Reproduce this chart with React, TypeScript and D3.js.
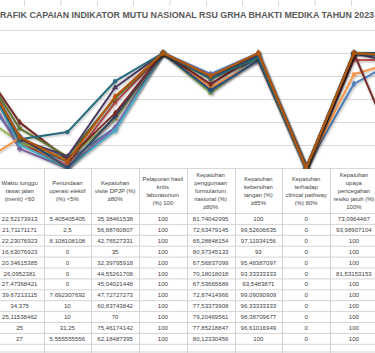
import React from 'react';
import * as d3 from 'd3';

const W = 375;
const H = 353;

const title = 'GRAFIK CAPAIAN INDIKATOR MUTU NASIONAL RSU GRHA BHAKTI MEDIKA TAHUN 2023';

const categories = [
  'Kepatuhan identifikasi pasien (%) 100',
  'Waktu tunggu rawat jalan (menit) <60',
  'Penundaan operasi elektif (%) <5%',
  'Kepatuhan visite DPJP (%) ≥80%',
  'Pelaporan hasil kritis laboratorium (%) 100',
  'Kepatuhan penggunaan formularium nasional (%) ≥80%',
  'Kepatuhan kebersihan tangan (%) ≥85%',
  'Kepatuhan terhadap clinical pathway (%) 80%',
  'Kepatuhan upaya pencegahan resiko jatuh (%) 100%',
  'Kecepatan waktu tanggap komplain (%) ≥80%',
];

// header lines of the table columns that are visible in the frame
const headerLines = [
  [],
  ['Waktu tunggu', 'rawat jalan', '(menit) <60'],
  ['Penundaan', 'operasi elektif', '(%) <5%'],
  ['Kepatuhan', 'visite DPJP (%)', '≥80%'],
  ['Pelaporan hasil', 'kritis', 'laboratorium', '(%) 100'],
  ['Kepatuhan', 'penggunaan', 'formularium', 'nasional (%)', '≥80%'],
  ['Kepatuhan', 'kebersihan', 'tangan (%)', '≥85%'],
  ['Kepatuhan', 'terhadap', 'clinical pathway', '(%) 80%'],
  ['Kepatuhan', 'upaya', 'pencegahan', 'resiko jatuh (%)', '100%'],
  [],
];
const visibleColumns = [false, true, true, true, true, true, true, true, true, false];

const months = ['Januari', 'Februari', 'Maret', 'April', 'Mei', 'Juni', 'Juli', 'Agustus', 'September', 'Oktober', 'November', 'Desember'];

// hidden (cut-off) columns, estimated from the lines entering / leaving the frame
const identifikasi = ['75', '100', '52', '90', '100', '0', '100', '100', '100', '100', '100', '100'];
const waktuTunggu = ['22,52173913', '21,71171171', '22,23076923', '16,63076923', '20,34615385', '26,0952381', '27,47368421', '39,67213115', '34,375', '25,11538462', '25', '27'];
const penundaan = ['5,405405405', '2,5', '8,108108108', '0', '0', '0', '0', '7,692307692', '10', '10', '31,25', '5,555555556'];
const visite = ['35,38461538', '56,88760807', '42,76527331', '35', '32,39795918', '44,55261708', '45,04021448', '47,72727273', '60,83743842', '70', '75,46174142', '62,18487395'];
const pelaporan = ['100', '100', '100', '100', '100', '100', '100', '100', '100', '100', '100', '100'];
const formularium = ['81,74042995', '72,63479145', '65,28848154', '80,97345133', '67,56837099', '70,18018018', '67,53665689', '72,87414966', '77,53373908', '79,20469561', '77,85218847', '80,12330456'];
const kebersihan = ['100', '99,52606635', '97,11934156', '93', '95,48387097', '93,33333333', '93,5483871', '99,09090909', '96,33333333', '98,38709677', '96,61016949', '100'];
const clinicalPathway = ['0', '0', '0', '0', '0', '0', '0', '0', '0', '0', '0', '0'];
const resikoJatuh = ['73,0964467', '93,98907104', '100', '100', '100', '81,53153153', '100', '100', '100', '100', '100', '100'];
const komplain = ['96', '94', '100', '100', '100', '94', '100', '2', '98', '90', '95', '97'];

const columns = [identifikasi, waktuTunggu, penundaan, visite, pelaporan, formularium, kebersihan, clinicalPathway, resikoJatuh, komplain];

const yTicks = [0, 20, 40, 60, 80, 100, 120];

const colors = ['#4F81BD', '#C0504D', '#9BBB59', '#8064A2', '#4BACC6', '#F79646', '#2C4D75', '#772C2A', '#5F7530', '#4D3B62', '#276A7C', '#B65708'];

const symbolTypes = [d3.symbolDiamond, d3.symbolSquare, d3.symbolTriangle, d3.symbolCross, d3.symbolStar, d3.symbolCircle, d3.symbolCross, d3.symbolDiamond, d3.symbolSquare, d3.symbolTriangle, d3.symbolCircle, d3.symbolDiamond];

const num = (s: string) => parseFloat(s.replace(',', '.'));

export default function App() {
  const colStep = 47.75;
  const x = d3.scaleBand<string>().domain(categories).range([-52, -52 + colStep * categories.length]).padding(0);
  const cx = (c: string) => (x(c) as number) + x.bandwidth() / 2;
  const chartTop = 6;
  const chartBottom = 169;
  const y = d3.scaleLinear().domain([0, 120]).range([168, 30]);

  const series = months.map((m, i) => ({
    name: m,
    color: colors[i],
    values: categories.map((c, j) => ({ c, v: num(columns[j][i]) })),
  }));

  const line = d3
    .line<{ c: string; v: number }>()
    .x((d) => cx(d.c))
    .y((d) => y(d.v));

  const headerTop = 169;
  const headerBottom = 213.5;
  const rowH = 10.9;
  const nRows = months.length;

  const colEdges = categories.map((c) => x(c) as number).concat([(x(categories[categories.length - 1]) as number) + x.bandwidth()]);
  const topGridX = [24.5, 61, 97.5, 133.5, 170, 206.5, 242.5, 278.5, 315, 351.5];

  return (
    <svg width={W} height={H} style={{ position: 'absolute', left: 0, top: 0, background: '#fff' }} fontFamily="'Liberation Sans', Arial, sans-serif">
      <defs>
        <clipPath id="plotClip">
          <rect x={0} y={chartTop} width={W} height={chartBottom - chartTop} />
        </clipPath>
        <filter id="shadow" x="-10%" y="-10%" width="120%" height="130%">
          <feDropShadow dx={0.8} dy={1.2} stdDeviation={0.8} floodColor="#000" floodOpacity={0.3} />
        </filter>
      </defs>

      {/* sheet gridlines above chart */}
      {topGridX.map((gx) => (
        <line key={'tg' + gx} x1={gx} x2={gx} y1={0} y2={chartTop} stroke="#d9d9d9" strokeWidth={1} />
      ))}

      {/* table */}
      <g>
        {colEdges.map((ex, i) => (
          <line key={'ve' + i} x1={Math.round(ex) + 0.5} x2={Math.round(ex) + 0.5} y1={headerTop} y2={H} stroke="#d4d4d4" strokeWidth={1} />
        ))}
        {d3.range(nRows + 1).map((r) => (
          <line key={'he' + r} x1={0} x2={W} y1={headerBottom + rowH * r} y2={headerBottom + rowH * r} stroke="#d4d4d4" strokeWidth={1} />
        ))}
        <line x1={0} x2={W} y1={352} y2={352} stroke="#d4d4d4" strokeWidth={1} />
        {categories.map((c, j) => {
          if (!visibleColumns[j]) return null;
          const lines = headerLines[j];
          const lh = 8;
          const mid = 191;
          const start = mid - ((lines.length - 1) * lh) / 2;
          return (
            <g key={'hd' + j}>
              {lines.map((t, k) => (
                <text key={k} x={cx(c)} y={start + k * lh + 2.1} textAnchor="middle" fontSize={5.9} fill="#3f3f3f">
                  {t}
                </text>
              ))}
              {columns[j].map((val, r) => (
                <text key={'v' + r} x={cx(c)} y={headerBottom + rowH * (r + 0.5) + 2.1} textAnchor="middle" fontSize={6.1} fill="#3f3f3f">
                  {val}
                </text>
              ))}
            </g>
          );
        })}
      </g>

      {/* chart */}
      <rect x={0} y={chartTop} width={W} height={chartBottom - chartTop} fill="#fff" />
      <text x={-7} y={18.3} fontSize={9} fontWeight="bold" fill="#595959" textLength={381} lengthAdjust="spacingAndGlyphs">
        {title}
      </text>
      {yTicks.map((t) => (
        <line key={'g' + t} x1={0} x2={W} y1={Math.round(y(t)) + 0.5} y2={Math.round(y(t)) + 0.5} stroke="#d9d9d9" strokeWidth={1} />
      ))}
      <g clipPath="url(#plotClip)">
        {series.map((s, i) => (
          <g key={s.name} filter="url(#shadow)">
            <path d={line(s.values) as string} fill="none" stroke={s.color} strokeWidth={2} strokeLinejoin="round" strokeLinecap="round" />
            {s.values.map((d, k) => (
              <path
                key={k}
                transform={`translate(${cx(d.c)},${y(d.v)})`}
                d={d3.symbol().type(symbolTypes[i]).size(12)() as string}
                fill={s.color}
                stroke={s.color}
                strokeWidth={0.5}
              />
            ))}
          </g>
        ))}
      </g>
    </svg>
  );
}
